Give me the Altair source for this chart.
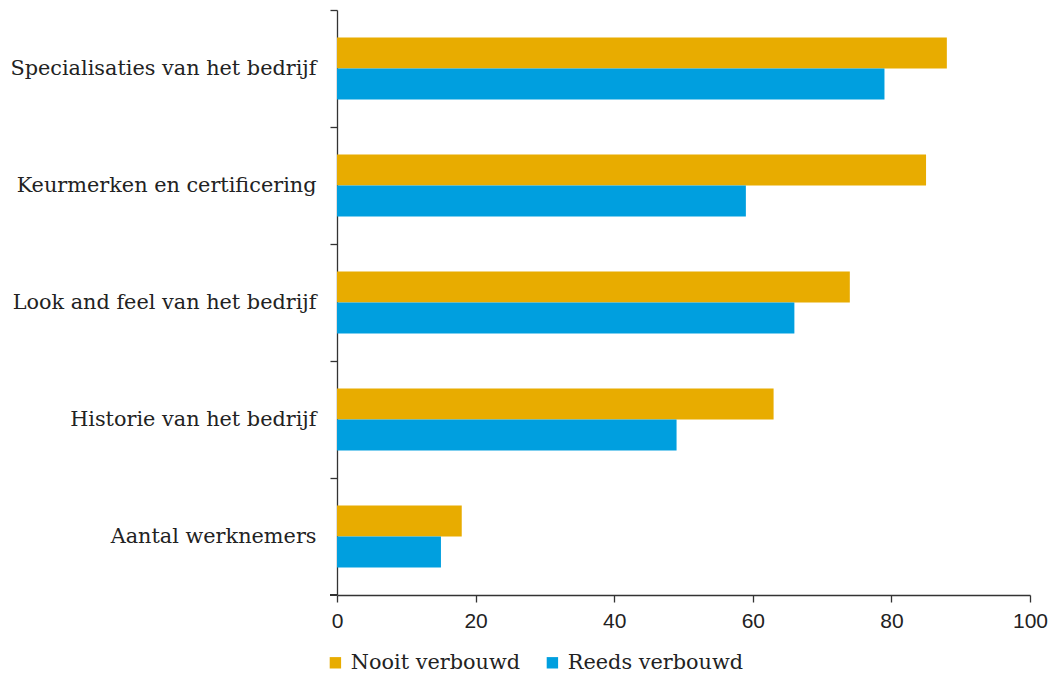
import altair as alt
import pandas as pd

categories = [
    "Specialisaties van het bedrijf",
    "Keurmerken en certificering",
    "Look and feel van het bedrijf",
    "Historie van het bedrijf",
    "Aantal werknemers",
]
series = ["Nooit verbouwd", "Reeds verbouwd"]
nooit = [88, 85, 74, 63, 18]
reeds = [79, 59, 66, 49, 15]
colors = ["#E8AC00", "#009FDF"]

rows = []
for c, a, b in zip(categories, nooit, reeds):
    rows.append({"cat": c, "serie": series[0], "val": a})
    rows.append({"cat": c, "serie": series[1], "val": b})
df = pd.DataFrame(rows)

serif = "DejaVu Serif"
sans = "Liberation Sans"

bars = alt.Chart(df).mark_bar().encode(
    y=alt.Y("cat:N", sort=categories, title=None,
            scale=alt.Scale(paddingInner=0, paddingOuter=0),
            axis=alt.Axis(bandPosition=0, tickSize=7, labelPadding=14,
                          labelFont=serif, labelFontSize=20.8, labelColor="#222",
                          domainColor="#333", tickColor="#333", labelLimit=400)),
    yOffset=alt.YOffset("serie:N", sort=series,
                        scale=alt.Scale(paddingInner=0, paddingOuter=0.887)),
    x=alt.X("val:Q", title=None,
            scale=alt.Scale(domain=[0, 100]),
            axis=alt.Axis(values=[0, 20, 40, 60, 80, 100], grid=False, tickSize=7,
                          labelPadding=8, labelFont=sans, labelFontSize=21,
                          labelFlush=False, labelOverlap=False,
                          labelColor="#222", domainColor="#333", tickColor="#333")),
    color=alt.Color("serie:N", sort=series,
                    scale=alt.Scale(domain=series, range=colors),
                    legend=alt.Legend(title=None, orient="none", direction="horizontal",
                                      legendX=-12, legendY=642, symbolType="square",
                                      symbolSize=130, symbolStrokeWidth=0,
                                      labelFont=serif, labelFontSize=20.8, labelColor="#222",
                                      labelLimit=300, labelOffset=5, columnPadding=22)),
)

bottom_tick = alt.Chart(df).mark_rule(color="#333").encode(
    x=alt.value(-7), x2=alt.value(0), y=alt.value(585)
)

chart = alt.layer(bars, bottom_tick).properties(
    width=693, height=585,
    autosize=alt.AutoSizeParams(type="none"),
    padding={"left": 337, "top": 10, "right": 19, "bottom": 78},
).configure_view(stroke=None).configure_axis(domainWidth=1.3, tickWidth=1.3)

chart.save("out.html", embed_options={"renderer": "svg", "actions": False})
